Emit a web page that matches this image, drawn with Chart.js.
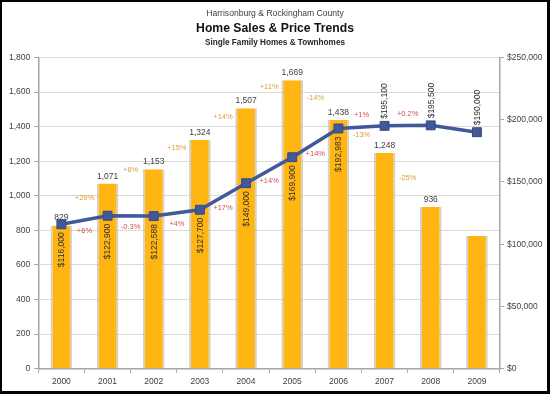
<!DOCTYPE html>
<html>
<head>
<meta charset="utf-8">
<script src="https://cdn.jsdelivr.net/npm/chart.js@4.4.1/dist/chart.umd.min.js"></script>
<style>
  html, body { margin: 0; padding: 0; background: #fff; }
  canvas { display: block; }
</style>
</head>
<body>
<canvas id="c" width="550" height="394"></canvas>
<script>
// ---- data ----
const years = ['2000','2001','2002','2003','2004','2005','2006','2007','2008','2009'];
const homeSales = [829, 1071, 1153, 1324, 1507, 1669, 1438, 1248, 936, 768];
const medianPrice = [116000, 122900, 122588, 127700, 149000, 169900, 192983, 195100, 195500, 190000];
const salesLabels = ['829','1,071','1,153','1,324','1,507','1,669','1,438','1,248','936',''];
const priceLabels = ['$116,000','$122,900','$122,588','$127,700','$149,000','$169,900','$192,983','$195,100','$195,500','$190,000'];
const salesChange = ['+29%','+8%','+15%','+14%','+11%','-14%','-13%','-25%',''];
const priceChange = ['+6%','-0.3%','+4%','+17%','+14%','+14%','+1%','+0.2%',''];
const salesAxisMax = 1800, salesAxisStep = 200;
const priceAxisMax = 250000, priceAxisStep = 50000;
const titleLines = ['Harrisonburg & Rockingham County', 'Home Sales & Price Trends', 'Single Family Homes & Townhomes'];

// ---- styles ----
const NARROW = "'Liberation Sans Narrow', 'Liberation Sans', Arial, sans-serif";
const SANS = "'Liberation Sans', Arial, sans-serif";
const BAR = '#FFB612';
const LINE = '#41589B';
const GOLD = '#D9A03A';
const RED = '#D0524F';
const AXIS = '#A6A6A6';
const GRID = '#D9D9D9';

const labelPlugin = {
  id: 'labels',
  afterDatasetsDraw(chart) {
    const ctx = chart.ctx;
    const xs = chart.scales.x, ys = chart.scales.y, yp = chart.scales.y1;
    ctx.save();
    // sales labels above bars
    ctx.font = '8.5px ' + NARROW;
    ctx.fillStyle = '#404040';
    ctx.textAlign = 'center';
    ctx.textBaseline = 'bottom';
    homeSales.forEach((v, i) => {
      if (!salesLabels[i]) return;
      ctx.fillText(salesLabels[i], xs.getPixelForValue(i), ys.getPixelForValue(v) - 3);
    });
    // price labels, rotated
    ctx.font = '8.5px ' + NARROW;
    ctx.fillStyle = '#303030';
    ctx.textBaseline = 'middle';
    medianPrice.forEach((v, i) => {
      const px = xs.getPixelForValue(i) + 0.5;
      const py = yp.getPixelForValue(v);
      ctx.save();
      if (i <= 6) {
        ctx.translate(px, py + 8);
        ctx.rotate(-Math.PI / 2);
        ctx.textAlign = 'right';
      } else {
        ctx.translate(px, py - 7);
        ctx.rotate(-Math.PI / 2);
        ctx.textAlign = 'left';
      }
      ctx.fillText(priceLabels[i], 0, 0);
      ctx.restore();
    });
    // sales change (gold)
    ctx.font = '7.5px ' + NARROW;
    ctx.textAlign = 'center';
    ctx.textBaseline = 'middle';
    ctx.fillStyle = GOLD;
    salesChange.forEach((t, i) => {
      if (!t) return;
      const x = (xs.getPixelForValue(i) + xs.getPixelForValue(i + 1)) / 2;
      const y = (ys.getPixelForValue(homeSales[i]) + ys.getPixelForValue(homeSales[i + 1])) / 2;
      const up = homeSales[i + 1] > homeSales[i];
      ctx.fillText(t, x, y - (up ? 7 : 2));
    });
    // price change (red)
    ctx.fillStyle = RED;
    priceChange.forEach((t, i) => {
      if (!t) return;
      const x = (xs.getPixelForValue(i) + xs.getPixelForValue(i + 1)) / 2;
      const y = (yp.getPixelForValue(medianPrice[i]) + yp.getPixelForValue(medianPrice[i + 1])) / 2;
      ctx.fillText(t, x, i < 6 ? y + 11 : y - 12);
    });
    ctx.restore();
  },
  afterDraw(chart) {
    const ctx = chart.ctx;
    const W = chart.width, H = chart.height;
    ctx.save();
    // titles
    ctx.textAlign = 'center';
    ctx.textBaseline = 'middle';
    ctx.fillStyle = '#404040';
    ctx.font = '8.6px ' + SANS;
    ctx.fillText(titleLines[0], W / 2, 13.5);
    ctx.fillStyle = '#111';
    ctx.font = 'bold 12.2px ' + SANS;
    ctx.fillText(titleLines[1], W / 2, 28.5);
    ctx.fillStyle = '#262626';
    ctx.font = 'bold 8.2px ' + SANS;
    ctx.fillText(titleLines[2], W / 2, 43);
    // black frame
    ctx.fillStyle = '#000';
    ctx.fillRect(0, 0, W, 2);
    ctx.fillRect(0, 0, 2, H);
    ctx.fillRect(W - 3, 0, 3, H);
    ctx.fillRect(0, H - 3, W, 3);
    ctx.restore();
  }
};

new Chart(document.getElementById('c'), {
  data: {
    labels: years,
    datasets: [
      {
        type: 'line',
        label: 'Median Price',
        data: medianPrice,
        yAxisID: 'y1',
        borderColor: LINE,
        backgroundColor: LINE,
        borderWidth: 3.5,
        pointStyle: 'rect',
        pointRadius: 6.3,
        pointBackgroundColor: LINE,
        pointBorderColor: '#344A88',
        pointBorderWidth: 1,
        tension: 0,
        order: 1
      },
      {
        type: 'bar',
        label: 'Home Sales',
        data: homeSales,
        yAxisID: 'y',
        backgroundColor: BAR,
        borderColor: 'rgba(195,195,195,0.75)',
        borderWidth: { left: 2, right: 2, top: 0, bottom: 0 },
        borderSkipped: false,
        barPercentage: 0.47,
        categoryPercentage: 1,
        order: 2
      }
    ]
  },
  options: {
    responsive: false,
    animation: false,
    devicePixelRatio: 1,
    layout: { padding: { top: 57.5, left: 0, right: 0, bottom: 0 } },
    plugins: {
      legend: { display: false },
      tooltip: { enabled: false },
      title: { display: false }
    },
    scales: {
      x: {
        type: 'category',
        offset: true,
        grid: { offset: true, drawOnChartArea: false, color: AXIS, tickLength: 4, lineWidth: 1 },
        border: { color: AXIS, width: 1.5 },
        ticks: { color: '#404040', font: { family: NARROW, size: 8.5 }, padding: 4, maxRotation: 0 },
        afterFit(s) { s.height = 25.3; }
      },
      y: {
        position: 'left',
        min: 0,
        max: salesAxisMax,
        grid: { color: GRID, tickColor: AXIS, tickLength: 4, lineWidth: 1 },
        border: { color: AXIS, width: 1.5 },
        ticks: {
          stepSize: salesAxisStep,
          color: '#404040',
          font: { family: NARROW, size: 8.5 },
          padding: 4,
          callback: v => v.toLocaleString('en-US')
        },
        afterFit(s) { s.width = 38.3; }
      },
      y1: {
        position: 'right',
        min: 0,
        max: priceAxisMax,
        grid: { drawOnChartArea: false, color: AXIS, tickLength: 4 },
        border: { color: AXIS, width: 1.5 },
        ticks: {
          stepSize: priceAxisStep,
          color: '#404040',
          font: { family: NARROW, size: 8.5 },
          padding: 3,
          callback: v => '$' + v.toLocaleString('en-US')
        },
        afterFit(s) { s.width = 50; }
      }
    }
  },
  plugins: [labelPlugin]
});
</script>
</body>
</html>
